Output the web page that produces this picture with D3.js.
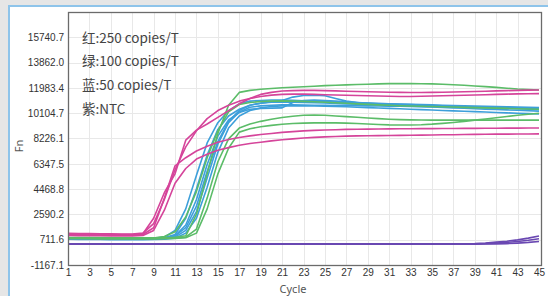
<!DOCTYPE html>
<html lang="zh">
<head>
<meta charset="UTF-8">
<title>qPCR amplification</title>
<script src="https://cdn.jsdelivr.net/npm/d3@7/dist/d3.min.js"></script>
<style>
    body { margin: 0; padding: 0; background: #e6e6e6; width: 548px; height: 296px; overflow: hidden; }
    #frame { position: absolute; left: 8px; top: 5px; width: 540px; height: 291px; background: #fff;
             border-left: 2px solid #8ec4ea; border-top: 2px solid #8ec4ea; }
    svg { position: absolute; left: 0; top: 0; }
</style>
</head>
<body>
<div id="frame"></div>
<svg id="chart" width="548" height="296"></svg>
<script>
    // categories / ticks
    const cycles = [1,2,3,4,5,6,7,8,9,10,11,12,13,14,15,16,17,18,19,20,21,22,23,24,25,26,27,28,29,30,31,32,33,34,35,36,37,38,39,40,41,42,43,44,45];
    const xTicks = [1,3,5,7,9,11,13,15,17,19,21,23,25,27,29,31,33,35,37,39,41,43,45];
    const yTicks = [-1167.1, 711.6, 2590.2, 4468.8, 6347.5, 8226.1, 10104.7, 11983.4, 13862.0, 15740.7];
    const yTickLabels = ["-1167.1", "711.6", "2590.2", "4468.8", "6347.5", "8226.1", "10104.7", "11983.4", "13862.0", "15740.7"];
    const legendLines = ["红:250 copies/T", "绿:100 copies/T", "蓝:50 copies/T", "紫:NTC"];

    // 250 copies/T (red)
    const red1 = [1130,1120,1110,1100,1100,1090,1090,1150,2300,4200,5600,8100,8850,9300,9800,10300,10800,11200,11500,11650,11750,11780,11800,11800,11780,11760,11740,11720,11700,11680,11660,11650,11640,11640,11650,11660,11680,11700,11720,11740,11760,11780,11800,11820,11830];
    const red2 = [1180,1170,1160,1150,1150,1140,1140,1200,1900,3700,5900,7600,8800,9700,10300,10700,11000,11200,11350,11450,11500,11520,11520,11500,11480,11460,11440,11420,11400,11380,11360,11350,11350,11360,11380,11400,11420,11440,11460,11480,11500,11520,11540,11550,11560];
    const red3 = [1080,1070,1060,1050,1050,1050,1050,1100,1600,3800,6200,6800,7300,7650,7950,8150,8300,8420,8520,8600,8680,8740,8790,8830,8860,8880,8900,8910,8920,8930,8940,8950,8950,8960,8960,8970,8970,8980,8980,8990,8990,9000,9000,9010,9010];
    const red4 = [1020,1010,1000,1000,990,990,990,1030,1400,2900,4900,6000,6700,7050,7350,7550,7720,7850,7950,8050,8130,8200,8260,8310,8350,8380,8400,8420,8430,8440,8450,8460,8470,8480,8490,8500,8510,8520,8530,8540,8550,8550,8560,8560,8570];

    // 100 copies/T (green)
    const green1 = [880,875,870,865,860,860,855,855,860,870,890,1000,2600,5600,8600,10700,11650,11800,11880,11940,11990,12030,12070,12110,12150,12180,12210,12240,12260,12280,12300,12300,12300,12290,12280,12250,12220,12180,12130,12080,12020,11960,11900,11860,11830];
    const green2 = [850,845,840,835,830,830,825,825,840,950,1300,2400,4300,6800,8800,10200,10750,10900,10970,11000,11020,11000,10980,10950,10920,10880,10840,10800,10760,10720,10690,10660,10640,10620,10600,10580,10560,10540,10520,10500,10480,10460,10440,10420,10400];
    const green3 = [820,815,810,805,800,800,800,800,805,815,830,900,1500,3800,6500,8200,9000,9300,9500,9650,9780,9880,9950,9970,9950,9900,9850,9800,9750,9700,9660,9630,9610,9600,9590,9590,9590,9590,9590,9590,9590,9590,9590,9590,9590];
    const green4 = [790,785,780,775,770,770,770,770,775,785,800,860,1200,3000,5600,7500,8700,8950,9100,9200,9280,9340,9370,9390,9400,9390,9370,9340,9300,9270,9240,9230,9230,9250,9290,9350,9420,9500,9590,9680,9770,9860,9950,10030,10100];

    // 50 copies/T (blue)
    const blue1 = [800,795,790,785,780,780,775,775,790,850,1100,2300,4500,7000,8900,9900,10400,10700,10850,10950,11050,11300,11420,11450,11400,11200,11000,10900,10800,10750,10720,10700,10680,10660,10640,10620,10600,10580,10560,10540,10520,10500,10480,10460,10440];
    const blue2 = [770,765,760,755,750,750,750,750,760,800,1000,1800,3700,6300,8400,9600,10150,10400,10450,10480,10500,10900,11050,11080,11050,11000,10950,10900,10860,10830,10800,10770,10740,10710,10680,10650,10620,10590,10560,10530,10500,10470,10440,10410,10380];
    const blue3 = [830,825,820,815,810,810,805,805,820,900,1400,3000,5500,7900,9400,10300,10800,11000,11050,11080,11080,11060,11030,11000,10970,10940,10910,10880,10850,10820,10800,10780,10760,10740,10720,10700,10680,10660,10640,10620,10600,10580,10560,10540,10520];
    const blue4 = [790,785,780,775,770,770,770,770,780,820,1000,1600,3200,5800,8000,9500,10300,10700,10850,10920,10930,10920,10900,10880,10860,10830,10800,10770,10740,10710,10680,10650,10620,10590,10560,10530,10500,10470,10440,10410,10380,10350,10320,10290,10260];
    const blue5 = [760,755,750,745,740,740,740,740,745,780,900,1400,2800,5300,7800,9400,10200,10550,10650,10700,10720,10720,10710,10700,10690,10680,10670,10660,10650,10640,10630,10620,10610,10600,10590,10580,10570,10560,10550,10540,10530,10520,10510,10500,10490];
    const blue6 = [740,735,730,725,720,720,720,720,725,750,820,1200,2300,4600,7200,9000,9900,10300,10500,10600,10650,10660,10650,10640,10620,10600,10580,10550,10520,10490,10460,10430,10400,10370,10340,10310,10280,10250,10220,10190,10160,10130,10100,10070,10040];

    // NTC (purple)
    const ntc1 = [400,400,400,400,400,400,400,400,400,400,400,400,400,400,400,400,400,400,400,400,400,400,400,400,400,400,400,400,400,400,400,400,400,400,400,400,400,410,430,470,530,600,700,830,990];
    const ntc2 = [390,390,390,390,390,390,390,390,390,390,390,390,390,390,390,390,390,390,390,390,390,390,390,390,390,390,390,390,390,390,390,390,390,390,390,390,390,390,400,420,460,510,580,670,780];
    const ntc3 = [380,380,380,380,380,380,380,380,380,380,380,380,380,380,380,380,380,380,380,380,380,380,380,380,380,380,380,380,380,380,380,380,380,380,380,380,380,380,380,390,400,420,460,510,580];

    const groups = [
        { color: "#3d9fda", series: [blue1, blue2, blue3, blue4, blue5, blue6] },
        { color: "#5bbc68", series: [green1, green2, green3, green4] },
        { color: "#d5449a", series: [red1, red2, red3, red4] },
        { color: "#6a48b2", series: [ntc1, ntc2, ntc3] }
    ];

    const svg = d3.select("#chart");
    const plotL = 68, plotR = 541, plotT = 12, plotB = 265;

    const x = d3.scaleLinear().domain([1, 45]).range([plotL, 539]);
    const y = d3.scaleLinear().domain([-1167.1, 17619.3]).range([plotB, plotT]);

    // grid
    const grid = svg.append("g").attr("stroke", "#e8e8e8").attr("stroke-width", 1);
    grid.selectAll("line.v")
        .data(xTicks.slice(1, -1))
        .enter().append("line")
        .attr("x1", d => Math.round(x(d)) + 0.5).attr("x2", d => Math.round(x(d)) + 0.5)
        .attr("y1", plotT).attr("y2", plotB);
    grid.selectAll("line.h")
        .data(yTicks.slice(1))
        .enter().append("line")
        .attr("x1", plotL).attr("x2", plotR)
        .attr("y1", d => Math.round(y(d)) + 0.5).attr("y2", d => Math.round(y(d)) + 0.5);

    // curves
    const line = d3.line()
        .x((d, i) => x(cycles[i]))
        .y(d => y(d));

    groups.forEach(g => {
        svg.append("g")
            .selectAll("path")
            .data(g.series)
            .enter().append("path")
            .attr("d", line)
            .attr("fill", "none")
            .attr("stroke", g.color)
            .attr("stroke-width", 1.6)
            .attr("stroke-linejoin", "round");
    });

    // plot border
    svg.append("rect")
        .attr("x", plotL + 0.5).attr("y", plotT + 0.5)
        .attr("width", plotR - plotL).attr("height", plotB - plotT)
        .attr("fill", "none").attr("stroke", "#6b6b6b").attr("stroke-width", 1.3);

    // axes
    const yAxis = svg.append("g")
        .attr("transform", `translate(${plotL},0)`)
        .call(d3.axisLeft(y).tickValues(yTicks).tickSize(0).tickPadding(4)
            .tickFormat((d, i) => yTickLabels[i]));
    yAxis.select(".domain").remove();

    const xAxis = svg.append("g")
        .attr("transform", `translate(0,${plotB})`)
        .call(d3.axisBottom(x).tickValues(xTicks).tickSize(0).tickPadding(4));
    xAxis.select(".domain").remove();

    svg.selectAll(".tick text")
        .attr("fill", "#333")
        .style("font-family", "'Liberation Sans', Arial, sans-serif")
        .style("font-size", "10px");

    // axis titles
    svg.append("text")
        .attr("transform", "translate(23,146) rotate(-90)")
        .attr("text-anchor", "middle")
        .attr("fill", "#555")
        .style("font-family", "'Noto Sans', sans-serif")
        .style("font-size", "11px")
        .text("Fn");

    svg.append("text")
        .attr("x", 293).attr("y", 293)
        .attr("text-anchor", "middle")
        .attr("fill", "#555")
        .style("font-family", "'Noto Sans', sans-serif")
        .style("font-size", "11px")
        .text("Cycle");

    // legend text
    svg.append("g")
        .selectAll("text")
        .data(legendLines)
        .enter().append("text")
        .attr("x", 82)
        .attr("y", (d, i) => 42.5 + i * 23.8)
        .attr("fill", "#444")
        .style("font-family", "'Noto Sans CJK SC', 'Noto Sans', sans-serif")
        .style("font-size", "13.5px")
        .text(d => d);
</script>
</body>
</html>
